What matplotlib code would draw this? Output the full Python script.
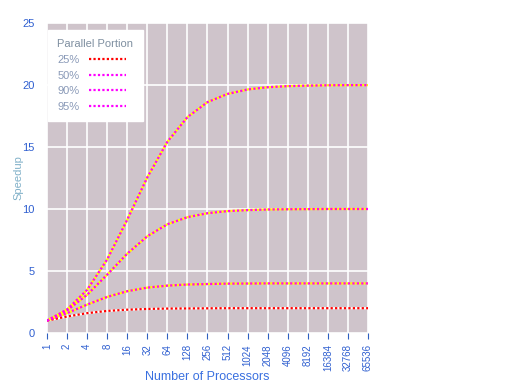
import matplotlib
matplotlib.use("Agg")
import matplotlib.pyplot as plt

plt.rcParams['font.family'] = ['Liberation Sans', 'DejaVu Sans']

# number of processors (x axis, log2)
processors = [1, 2, 4, 8, 16, 32, 64, 128, 256, 512, 1024, 2048,
              4096, 8192, 16384, 32768, 65536]
tick_labels = [str(n) for n in processors]

# speedup, one list per curve
speedup_a = [1.0, 1.33, 1.6, 1.78, 1.88, 1.94, 1.97, 1.98, 1.99, 2.0,
             2.0, 2.0, 2.0, 2.0, 2.0, 2.0, 2.0]
speedup_b = [1.0, 1.6, 2.29, 2.91, 3.37, 3.66, 3.82, 3.91, 3.95, 3.98,
             3.99, 4.0, 4.0, 4.0, 4.0, 4.0, 4.0]
speedup_c = [1.0, 1.82, 3.08, 4.71, 6.4, 7.8, 8.77, 9.34, 9.66, 9.83,
             9.91, 9.96, 9.98, 9.99, 10.0, 10.0, 10.0]
speedup_d = [1.0, 1.9, 3.48, 5.93, 9.14, 12.55, 15.42, 17.41, 18.62, 19.28,
             19.64, 19.82, 19.91, 19.95, 19.98, 19.99, 19.99]

series = [speedup_a, speedup_b, speedup_c, speedup_d]
labels = ['25%', '50%', '90%', '95%']
# two-colour dotted look: base colour + dash colour
base_colors = ['white', 'yellow', 'yellow', 'yellow']
dash_colors = ['red', 'magenta', 'magenta', 'magenta']

fig = plt.figure(figsize=(5.09, 3.91), dpi=100)
ax = fig.add_axes([47 / 509, 1 - 333 / 391, (368 - 47) / 509, (333 - 23) / 391])
ax.set_facecolor('#cfc4cb')

ax.set_xscale('log', base=2)
ax.set_xlim(1, 65536)
ax.set_ylim(0, 25)

handles = []
for ys, lab, bc, dc in zip(series, labels, base_colors, dash_colors):
    ax.plot(processors, ys, color=bc, lw=1.6, solid_capstyle='butt', zorder=3)
    h, = ax.plot(processors, ys, color=dc, lw=1.6, dashes=(1, 1), zorder=4)
    handles.append(h)

ax.set_xticks(processors)
ax.set_xticklabels(tick_labels, rotation=90)
ax.minorticks_off()
ax.set_yticks([0, 5, 10, 15, 20, 25])
ax.grid(True, color='white', lw=1.2)
ax.set_axisbelow(True)
for s in ax.spines.values():
    s.set_visible(False)
ax.tick_params(axis='x', length=4, color='#3060c0', labelsize=7,
               labelcolor='#2f5fd0', pad=4)
ax.tick_params(axis='y', length=0, labelsize=8, labelcolor='#2f5fd0', pad=9)

ax.set_xlabel('Number of Processors', fontsize=9, color='#3a70e0')
ax.xaxis.set_label_coords(0.5, -0.142)
ax.xaxis.label.set_va('center')
ax.set_ylabel('Speedup', fontsize=8, color='#80b0c8')
ax.yaxis.set_label_coords(-0.09, 0.5)
ax.yaxis.label.set_va('center')

leg = ax.legend(handles, labels, title='Parallel Portion', loc='upper left',
                bbox_to_anchor=(1 / 321, (333 - 30) / 310),
                markerfirst=False, frameon=True, fancybox=False,
                fontsize=8, title_fontsize=8, handlelength=3.4,
                borderaxespad=0, borderpad=0.85, labelspacing=0.5,
                alignment='left')
leg.get_frame().set_facecolor('white')
leg.get_frame().set_edgecolor('white')
leg.get_frame().set_alpha(1)
leg.get_title().set_color('#7f8fa0')
for t in leg.get_texts():
    t.set_color('#8a9ab8')

fig.savefig('out.png', dpi=100)
